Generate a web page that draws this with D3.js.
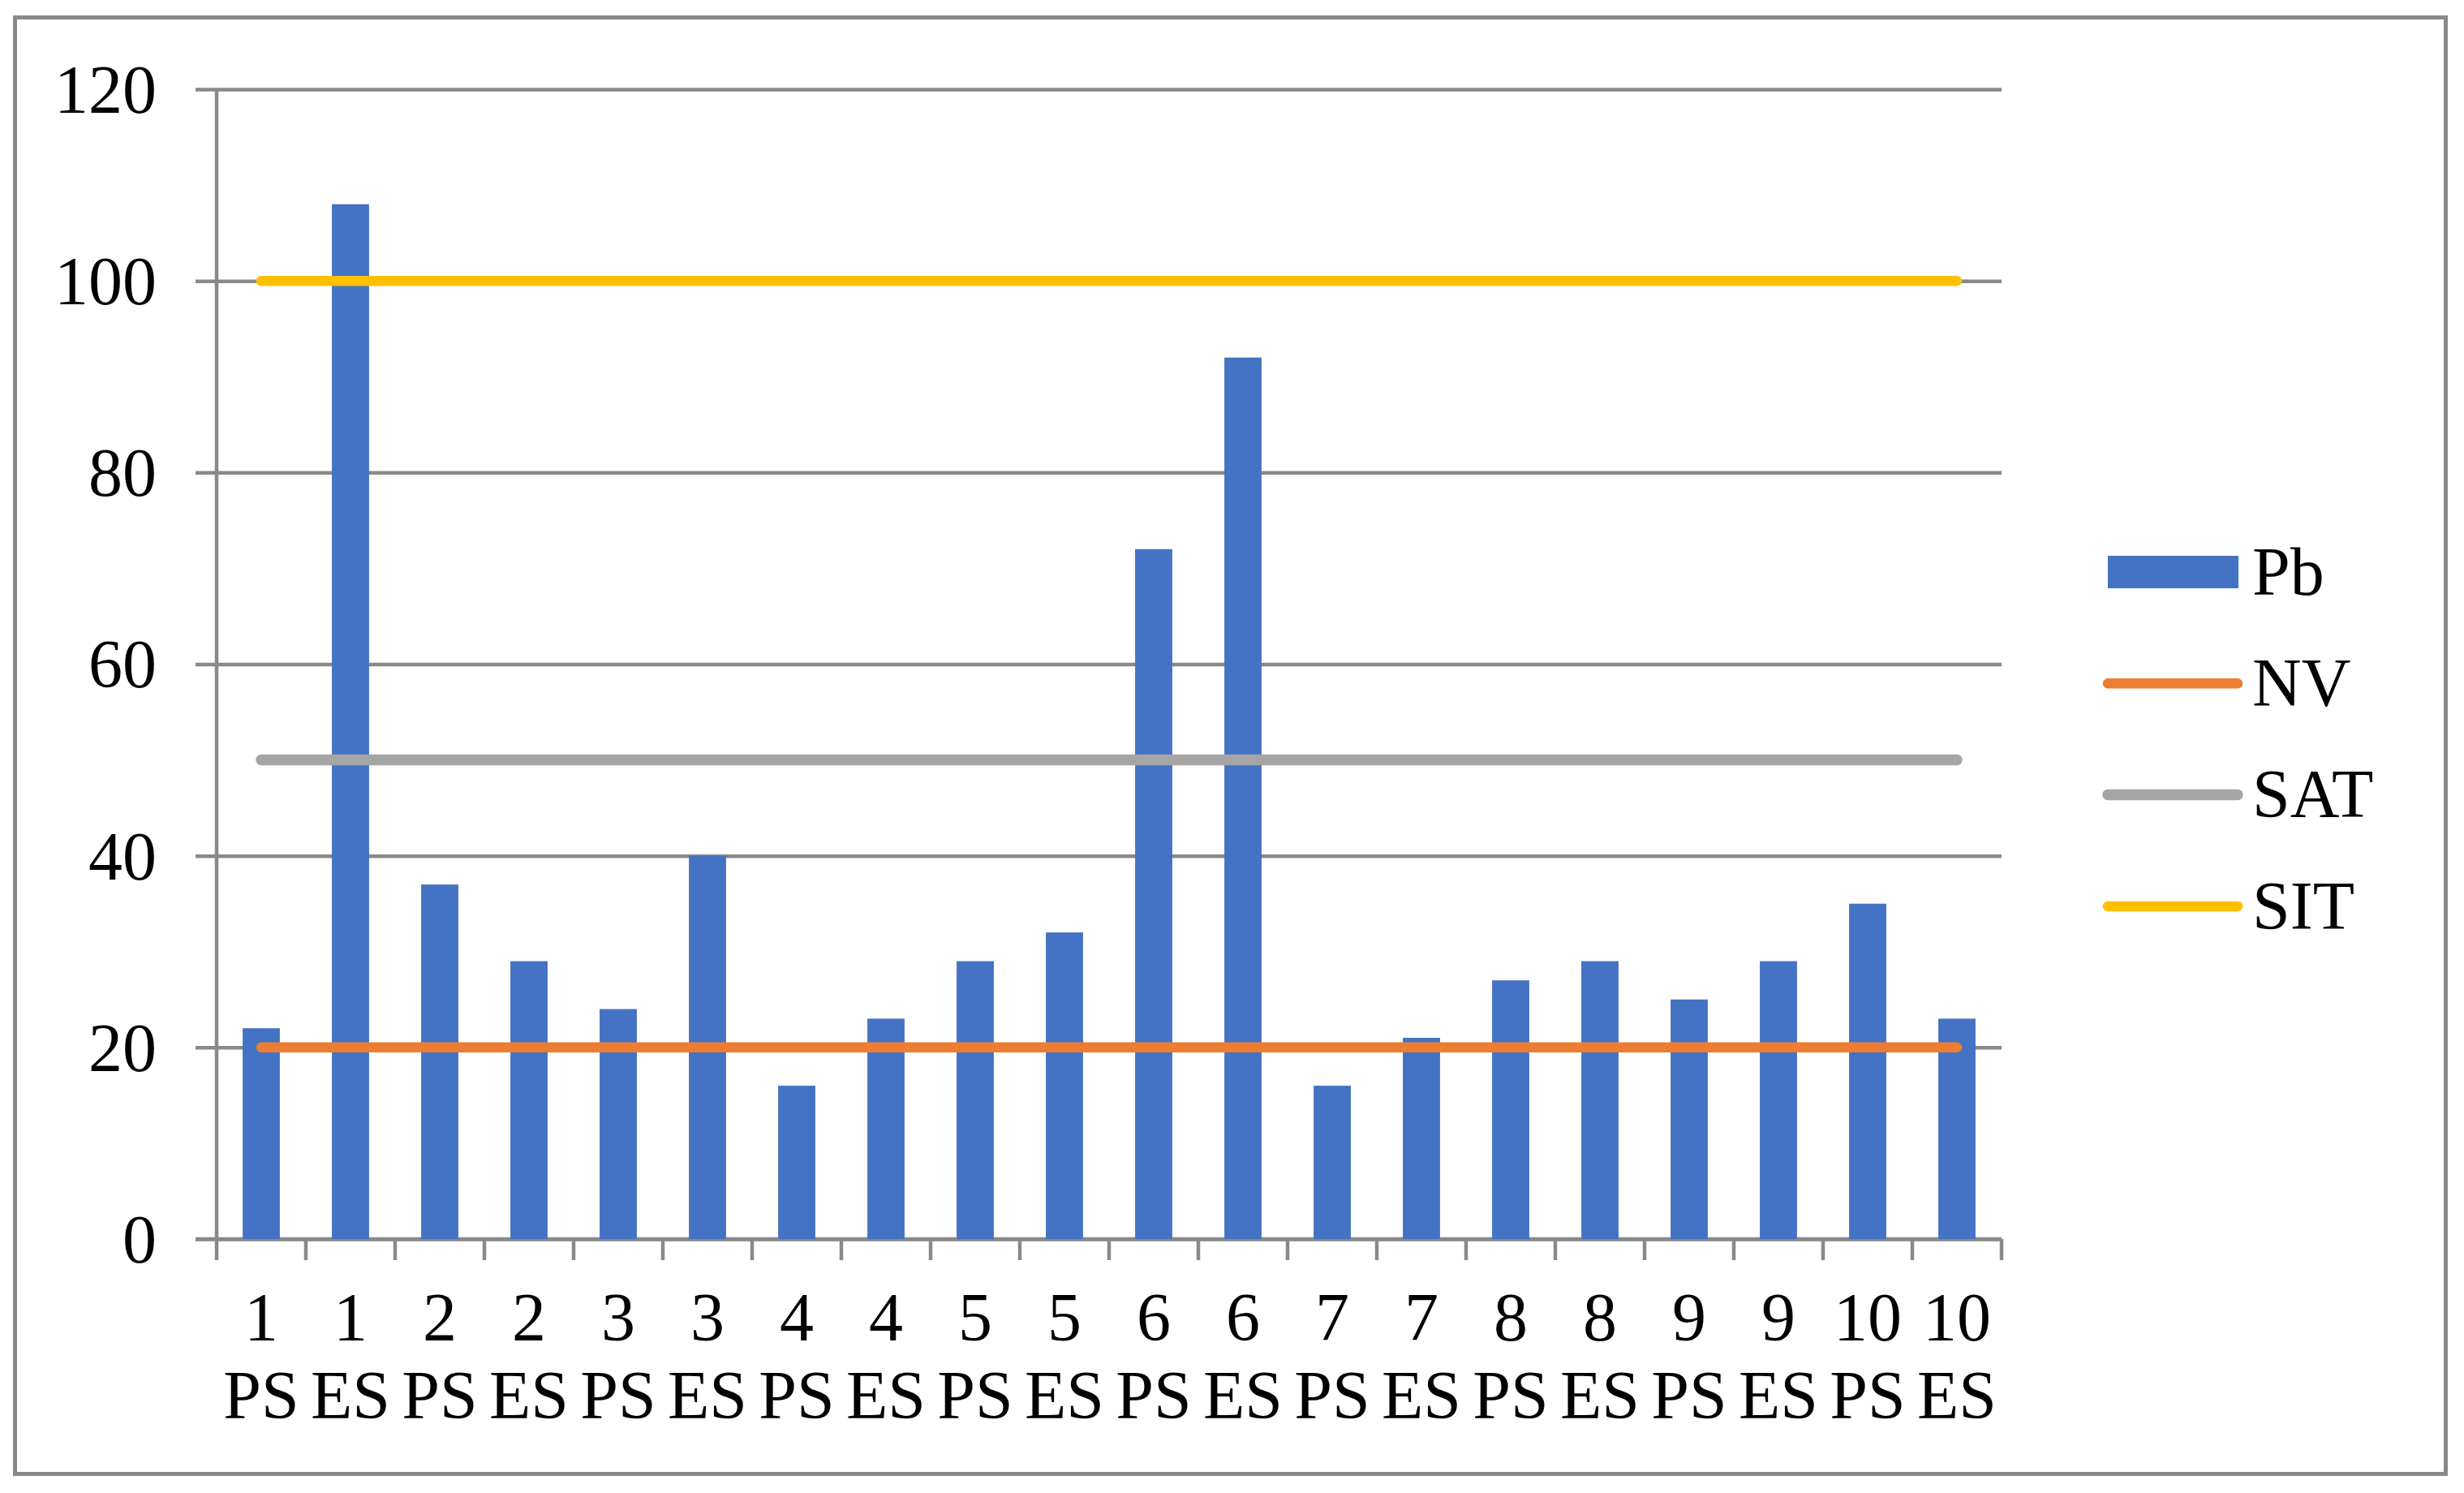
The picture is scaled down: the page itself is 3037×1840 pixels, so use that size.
<!DOCTYPE html>
<html>
<head>
<meta charset="utf-8">
<script src="https://cdn.jsdelivr.net/npm/d3@7"></script>
<style>
  html, body { margin: 0; padding: 0; background: #fff; }
  svg { display: block; }
  text { font-family: "Liberation Serif", "Times New Roman", serif; fill: #000; }
</style>
</head>
<body>
<svg id="chart" width="3037" height="1840"></svg>
<script>
// ---- data ----
const sites = ["1", "1", "2", "2", "3", "3", "4", "4", "5", "5", "6", "6", "7", "7", "8", "8", "9", "9", "10", "10"];
const sampleTypes = ["PS", "ES", "PS", "ES", "PS", "ES", "PS", "ES", "PS", "ES", "PS", "ES", "PS", "ES", "PS", "ES", "PS", "ES", "PS", "ES"];
const pbValues = [22, 108, 37, 29, 24, 40, 16, 23, 29, 32, 72, 92, 16, 21, 27, 29, 25, 29, 35, 23];
const nvValue = 20;
const satValue = 50;
const sitValue = 100;
const yTicks = [0, 20, 40, 60, 80, 100, 120];
const seriesNames = ["Pb", "NV", "SAT", "SIT"];

// ---- layout ----
const plot = { left: 267, right: 2467, top: 110, bottom: 1527 };
const fontSize = 84;
const gridColor = "#898989";
const colors = { Pb: "#4472C4", NV: "#ED7D31", SAT: "#A5A5A5", SIT: "#FFC000" };
const lineWidths = { NV: 12.5, SAT: 13.5, SIT: 12.5 };

const categories = sites.map((s, i) => i);

const svg = d3.select("#chart");

// outer border
svg.append("rect")
  .attr("x", 18.5).attr("y", 21.5)
  .attr("width", 3014.5 - 18.5).attr("height", 1816.5 - 21.5)
  .attr("fill", "#fff")
  .attr("stroke", gridColor)
  .attr("stroke-width", 5);

// scales
const x = d3.scaleBand()
  .domain(categories)
  .range([plot.left, plot.right])
  .paddingInner(1.4 / 2.4)
  .paddingOuter(0.7 / 2.4);

const y = d3.scaleLinear()
  .domain([0, 120])
  .range([plot.bottom, plot.top]);

const step = x.step();
const center = i => x(i) + x.bandwidth() / 2;

// y axis with gridlines
const tickLen = 26;
const yAxis = d3.axisLeft(y)
  .tickValues(yTicks)
  .tickSize(-(plot.right - plot.left + tickLen))
  .tickPadding(48)
  .tickFormat(d3.format("d"));

const gy = svg.append("g")
  .attr("transform", `translate(${plot.left - tickLen},0)`)
  .call(yAxis);
gy.select(".domain").remove();
gy.selectAll(".tick line")
  .attr("stroke", gridColor)
  .attr("stroke-width", 4.5);
gy.selectAll(".tick text")
  .attr("font-size", fontSize)
  .attr("font-family", "Liberation Serif, Times New Roman, serif")
  .attr("dy", null)
  .attr("y", fontSize * 0.676 / 2)
  .attr("fill", "#000");

// vertical axis line
svg.append("line")
  .attr("x1", plot.left).attr("x2", plot.left)
  .attr("y1", y(120)).attr("y2", y(0))
  .attr("stroke", gridColor).attr("stroke-width", 4.5);

// x axis labels via axisBottom (no tick lines)
const xAxis = d3.axisBottom(x).tickSize(0).tickFormat(() => "");
const gx = svg.append("g")
  .attr("transform", `translate(0,${plot.bottom})`)
  .call(xAxis);
gx.select(".domain").remove();
gx.selectAll(".tick text").remove();
gx.selectAll(".tick").each(function(d) {
  const t = d3.select(this).append("text")
    .attr("text-anchor", "middle")
    .attr("font-size", fontSize)
    .attr("font-family", "Liberation Serif, Times New Roman, serif")
    .attr("fill", "#000");
  t.append("tspan").attr("x", 0).attr("y", 1652 - plot.bottom).text(sites[d]);
  t.append("tspan").attr("x", 0).attr("y", 1748 - plot.bottom).text(sampleTypes[d]);
});

// horizontal axis line + boundary ticks
svg.append("line")
  .attr("x1", plot.left - tickLen).attr("x2", plot.right)
  .attr("y1", y(0)).attr("y2", y(0))
  .attr("stroke", gridColor).attr("stroke-width", 4.5);

const boundaries = categories.map(i => center(i) - step / 2).concat([center(categories.length - 1) + step / 2]);
svg.append("g").selectAll("line")
  .data(boundaries)
  .join("line")
  .attr("x1", d => d).attr("x2", d => d)
  .attr("y1", y(0)).attr("y2", y(0) + tickLen)
  .attr("stroke", gridColor).attr("stroke-width", 4.5);

// bars
svg.append("g").selectAll("rect")
  .data(pbValues)
  .join("rect")
  .attr("x", (d, i) => x(i))
  .attr("width", x.bandwidth())
  .attr("y", d => y(d))
  .attr("height", d => y(0) - y(d))
  .attr("fill", colors.Pb);

// reference lines
const refLines = [
  { name: "NV", value: nvValue },
  { name: "SAT", value: satValue },
  { name: "SIT", value: sitValue }
];
const line = d3.line().x(d => d[0]).y(d => d[1]);
refLines.forEach(r => {
  const pts = categories.map(i => [center(i), y(r.value)]);
  svg.append("path")
    .attr("d", line(pts))
    .attr("fill", "none")
    .attr("stroke", colors[r.name])
    .attr("stroke-width", lineWidths[r.name])
    .attr("stroke-linecap", "round");
});

// legend
const legend = svg.append("g");
const legY0 = 705, legStep = 137.3;
seriesNames.forEach((name, k) => {
  const cy = legY0 + k * legStep;
  if (name === "Pb") {
    legend.append("rect")
      .attr("x", 2598).attr("y", cy - 20)
      .attr("width", 161).attr("height", 40)
      .attr("fill", colors.Pb);
  } else {
    legend.append("line")
      .attr("x1", 2598).attr("x2", 2758)
      .attr("y1", cy).attr("y2", cy)
      .attr("stroke", colors[name])
      .attr("stroke-width", lineWidths[name])
      .attr("stroke-linecap", "round");
  }
  legend.append("text")
    .attr("x", 2776)
    .attr("y", cy + fontSize * 0.662 / 2)
    .attr("font-size", fontSize)
    .text(name);
});
</script>
</body>
</html>
